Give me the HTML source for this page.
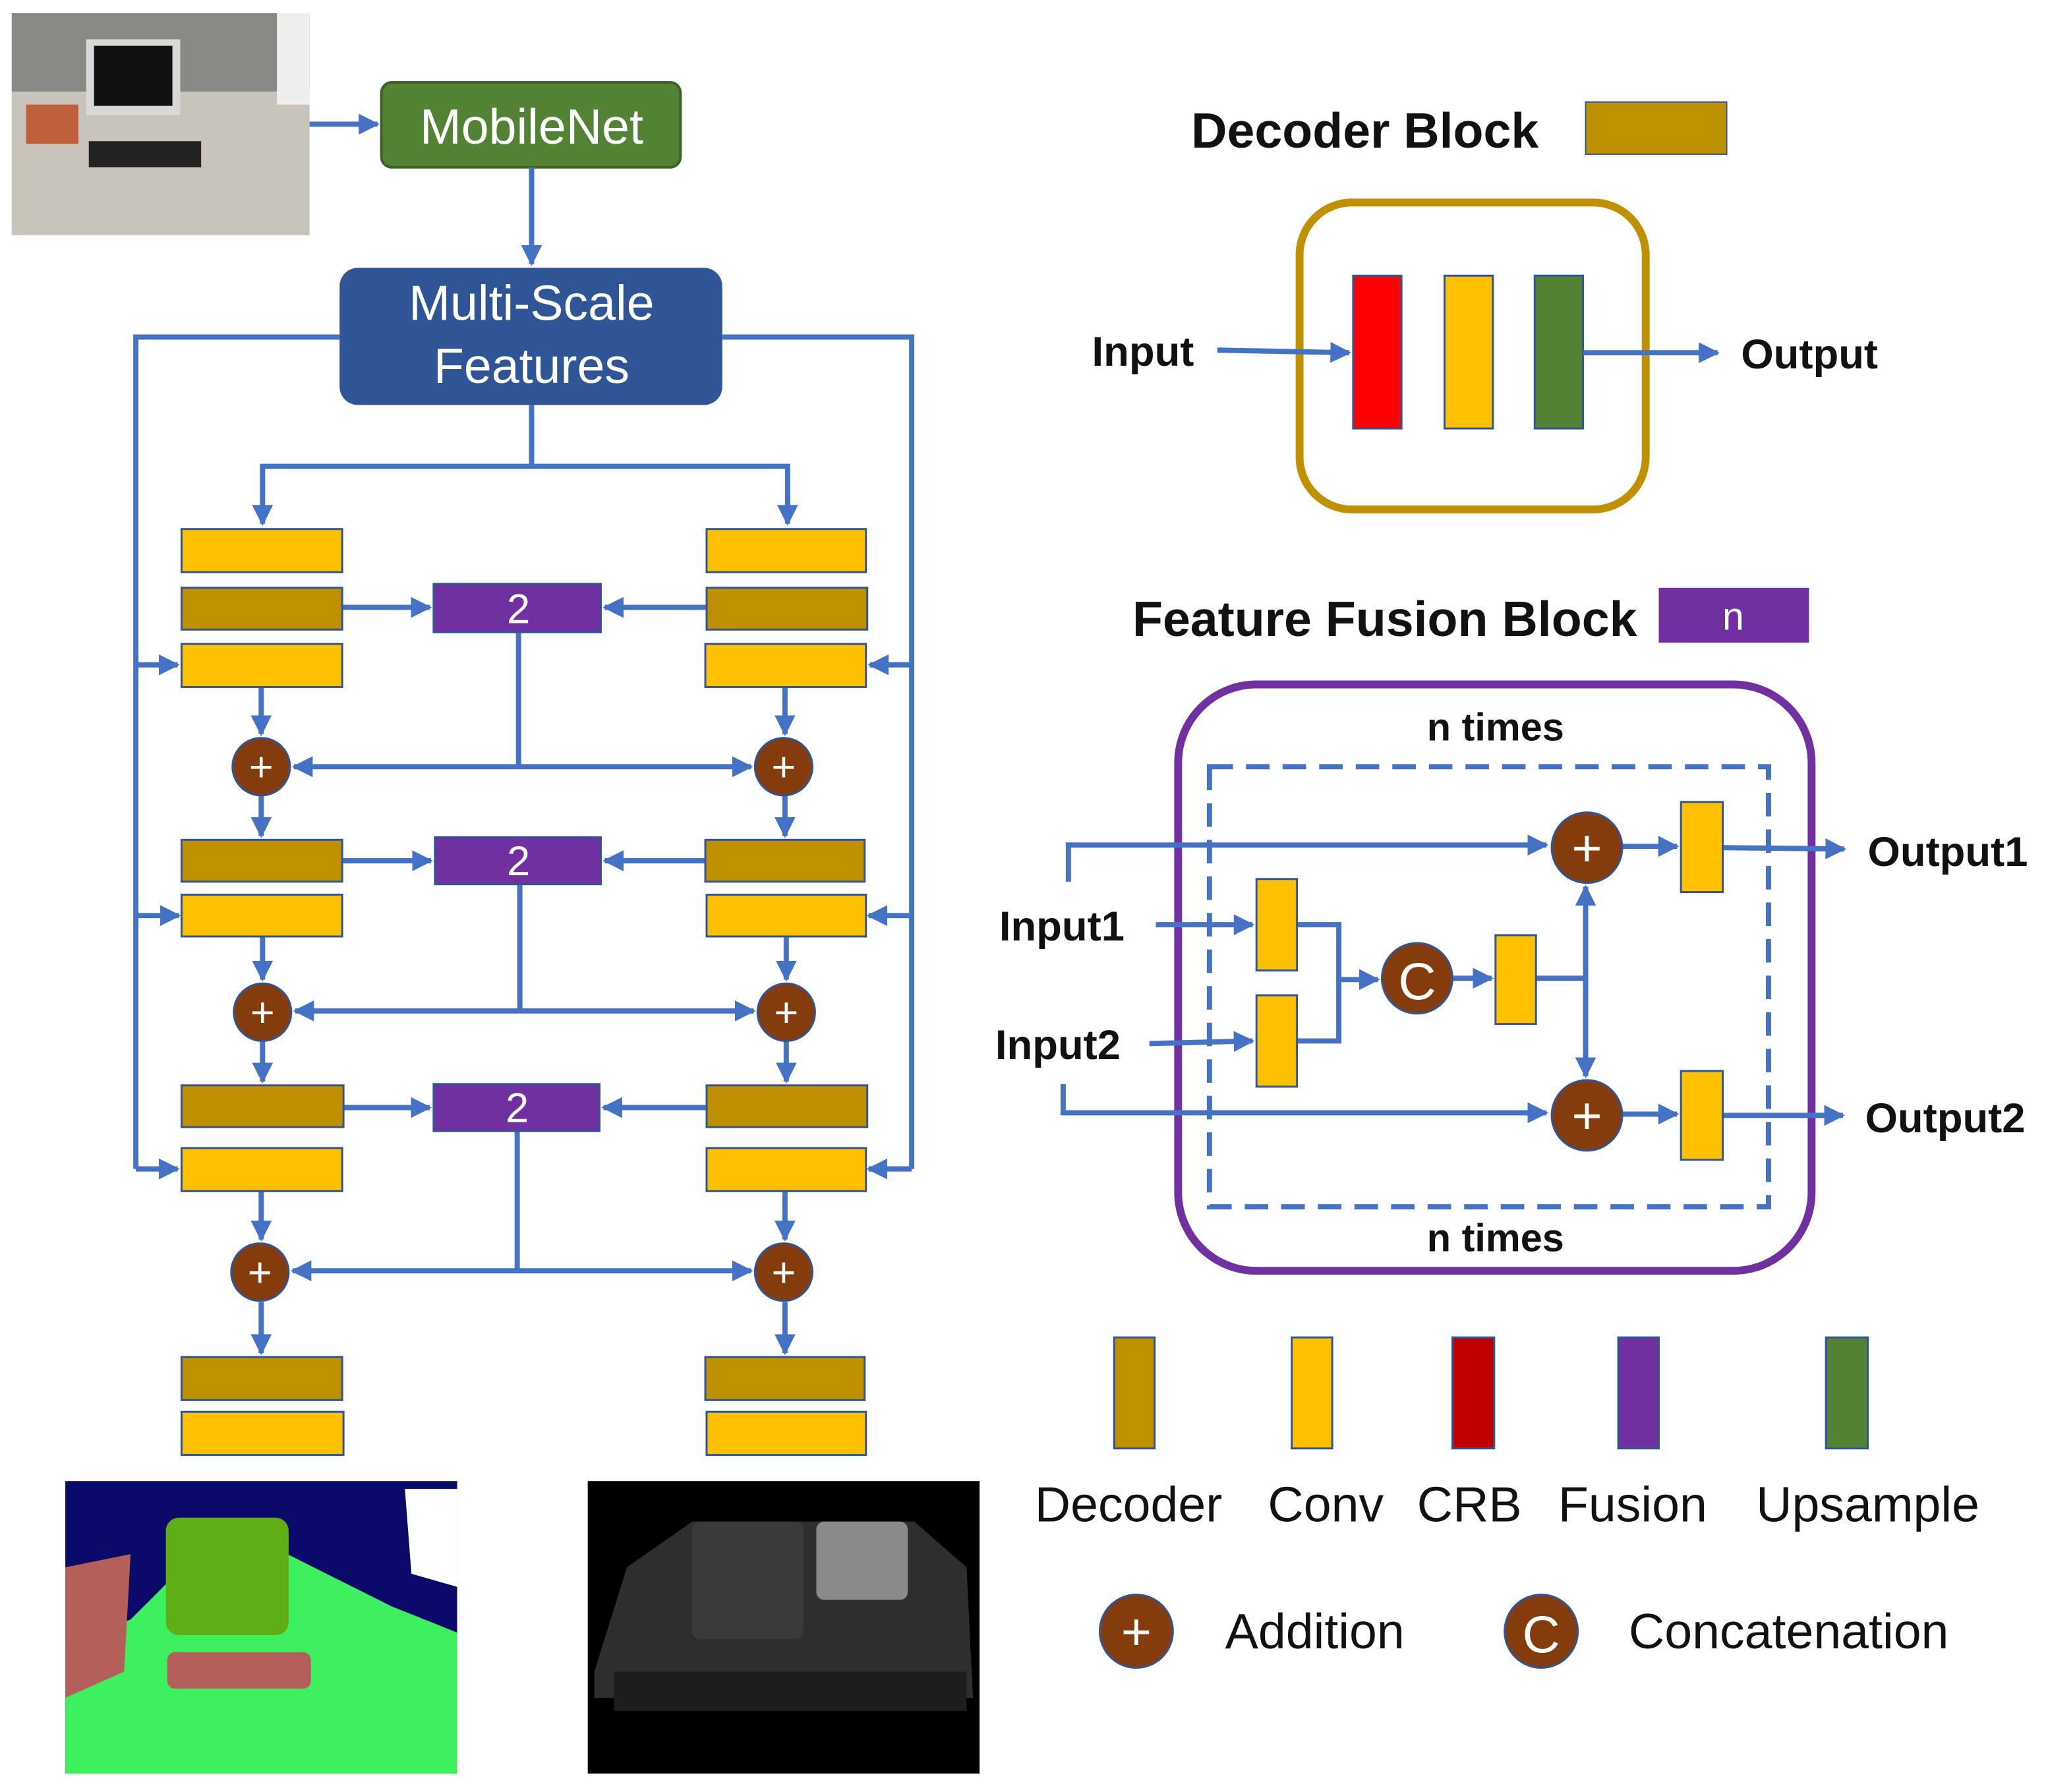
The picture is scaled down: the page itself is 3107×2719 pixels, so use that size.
<!DOCTYPE html>
<html><head><meta charset="utf-8"><style>
html,body{margin:0;padding:0;background:#fff;}
svg{display:block;}
text{font-family:"Liberation Sans",sans-serif;}
</style></head><body>
<svg width="3107" height="2719" viewBox="0 0 1568 1372" xmlns="http://www.w3.org/2000/svg">
<defs>
<marker id="a" viewBox="0 0 10 10" refX="9" refY="5" markerWidth="4" markerHeight="4" orient="auto-start-reverse"><path d="M0,0 L10,5 L0,10 z" fill="#4472C4"/></marker>
</defs>
<!-- photo -->
<rect x="9" y="10" width="228" height="170" fill="#c9c4bb"/>
<rect x="9" y="10" width="228" height="60" fill="#8a8a85"/>
<rect x="66" y="30" width="72" height="58" fill="#d8d8d8"/><rect x="72" y="35" width="60" height="46" fill="#111"/>
<rect x="68" y="108" width="86" height="20" fill="#222"/>
<rect x="212" y="10" width="25" height="70" fill="#eee"/>
<rect x="20" y="80" width="40" height="30" fill="#c0603a"/>
<!-- MobileNet -->
<rect x="292" y="63" width="229" height="65" rx="8" fill="#548235" stroke="#3d6127" stroke-width="2"/>
<text x="407" y="110" font-size="38" fill="#fff" text-anchor="middle">MobileNet</text>
<g stroke="#4472C4" stroke-width="4" fill="none">
<line x1="237" y1="95" x2="289" y2="95" marker-end="url(#a)"/>
<line x1="407" y1="128" x2="407" y2="202" marker-end="url(#a)"/>
<polyline points="260,258 104,258 104,895"/>
<polyline points="553,258 698,258 698,895"/>
<polyline points="407,310 407,357 201,357 201,401" marker-end="url(#a)"/>
<polyline points="407,357 603,357 603,401" marker-end="url(#a)"/>
<!-- row1 -->
<line x1="262" y1="465" x2="329" y2="465" marker-end="url(#a)"/>
<line x1="541" y1="465" x2="463" y2="465" marker-end="url(#a)"/>
<line x1="104" y1="509" x2="136" y2="509" marker-end="url(#a)"/>
<line x1="698" y1="509" x2="666" y2="509" marker-end="url(#a)"/>
<line x1="397" y1="484" x2="397" y2="587"/>
<line x1="397" y1="587" x2="225" y2="587" marker-end="url(#a)"/>
<line x1="397" y1="587" x2="575" y2="587" marker-end="url(#a)"/>
<line x1="200" y1="526" x2="200" y2="562" marker-end="url(#a)"/>
<line x1="601" y1="526" x2="601" y2="562" marker-end="url(#a)"/>
<line x1="200" y1="609" x2="200" y2="640" marker-end="url(#a)"/>
<line x1="601" y1="609" x2="601" y2="640" marker-end="url(#a)"/>
<!-- row2 -->
<line x1="262" y1="659" x2="330" y2="659" marker-end="url(#a)"/>
<line x1="541" y1="659" x2="463" y2="659" marker-end="url(#a)"/>
<line x1="104" y1="701" x2="137" y2="701" marker-end="url(#a)"/>
<line x1="698" y1="701" x2="665" y2="701" marker-end="url(#a)"/>
<line x1="398" y1="677" x2="398" y2="774"/>
<line x1="398" y1="774" x2="226" y2="774" marker-end="url(#a)"/>
<line x1="398" y1="774" x2="577" y2="774" marker-end="url(#a)"/>
<line x1="201" y1="717" x2="201" y2="750" marker-end="url(#a)"/>
<line x1="602" y1="717" x2="602" y2="750" marker-end="url(#a)"/>
<line x1="201" y1="797" x2="201" y2="828" marker-end="url(#a)"/>
<line x1="602" y1="797" x2="602" y2="828" marker-end="url(#a)"/>
<!-- row3 -->
<line x1="263" y1="848" x2="329" y2="848" marker-end="url(#a)"/>
<line x1="541" y1="848" x2="462" y2="848" marker-end="url(#a)"/>
<line x1="104" y1="895" x2="136" y2="895" marker-end="url(#a)"/>
<line x1="698" y1="895" x2="665" y2="895" marker-end="url(#a)"/>
<line x1="396" y1="866" x2="396" y2="973"/>
<line x1="396" y1="973" x2="224" y2="973" marker-end="url(#a)"/>
<line x1="396" y1="973" x2="575" y2="973" marker-end="url(#a)"/>
<line x1="200" y1="912" x2="200" y2="949" marker-end="url(#a)"/>
<line x1="601" y1="912" x2="601" y2="949" marker-end="url(#a)"/>
<line x1="200" y1="997" x2="200" y2="1036" marker-end="url(#a)"/>
<line x1="601" y1="997" x2="601" y2="1036" marker-end="url(#a)"/>
</g>
<rect x="260" y="205" width="293" height="105" rx="14" fill="#2F5597"/>
<text x="407" y="245" font-size="38" fill="#fff" text-anchor="middle">Multi-Scale</text>
<text x="407" y="293" font-size="38" fill="#fff" text-anchor="middle">Features</text>
<g stroke="#2F5597" stroke-width="1.5">
<g fill="#FFC000">
<rect x="139" y="405" width="123" height="33"/><rect x="139" y="493" width="123" height="33"/>
<rect x="541" y="405" width="122" height="33"/><rect x="540" y="493" width="123" height="33"/>
<rect x="139" y="685" width="123" height="32"/><rect x="541" y="685" width="122" height="32"/>
<rect x="139" y="879" width="123" height="33"/><rect x="541" y="879" width="122" height="33"/>
<rect x="139" y="1081" width="124" height="33"/><rect x="541" y="1081" width="122" height="33"/>
</g>
<g fill="#BF9000">
<rect x="139" y="450" width="123" height="32"/><rect x="541" y="450" width="123" height="32"/>
<rect x="139" y="643" width="123" height="32"/><rect x="540" y="643" width="122" height="32"/>
<rect x="139" y="831" width="124" height="32"/><rect x="541" y="831" width="123" height="32"/>
<rect x="139" y="1039" width="123" height="33"/><rect x="540" y="1039" width="122" height="33"/>
</g>
<g fill="#7030A0">
<rect x="332" y="447" width="128" height="37"/><rect x="333" y="641" width="127" height="36"/><rect x="332" y="830" width="127" height="36"/>
</g>
</g>
<g font-size="32" fill="#fff" text-anchor="middle">
<text x="397" y="477">2</text><text x="397" y="670">2</text><text x="396" y="859">2</text>
</g>
<g fill="#843C0C" stroke="#2F5597" stroke-width="1.5">
<circle cx="200" cy="587" r="22"/><circle cx="600" cy="587" r="22"/>
<circle cx="201" cy="775" r="22"/><circle cx="602" cy="775" r="22"/>
<circle cx="199" cy="974" r="22"/><circle cx="600" cy="974" r="22"/>
</g>
<g font-size="32" fill="#fff" text-anchor="middle">
<text x="200" y="598">+</text><text x="600" y="598">+</text>
<text x="201" y="786">+</text><text x="602" y="786">+</text>
<text x="199" y="985">+</text><text x="600" y="985">+</text>
</g>
<!-- seg image -->
<rect x="50" y="1134" width="300" height="224" fill="#0a0a6a"/>
<path d="M50,1260 L100,1240 L140,1200 L220,1190 L300,1230 L350,1250 L350,1358 L50,1358 Z" fill="#3ef060"/>
<rect x="127" y="1162" width="94" height="90" rx="10" fill="#5fae17"/>
<rect x="128" y="1265" width="110" height="28" rx="6" fill="#b45f5a"/>
<path d="M50,1200 L100,1190 L95,1280 L50,1300Z" fill="#b45f5a"/>
<path d="M310,1140 L350,1140 L350,1215 L315,1205Z" fill="#fff"/>
<!-- depth image -->
<rect x="450" y="1134" width="300" height="224" fill="#000"/>
<path d="M455,1280 L480,1200 L530,1165 L620,1165 L700,1165 L740,1200 L745,1300 L455,1300 Z" fill="#2e2e2e"/>
<rect x="530" y="1165" width="85" height="90" rx="6" fill="#3a3a3a"/>
<rect x="625" y="1165" width="70" height="60" rx="6" fill="#8a8a8a"/>
<rect x="470" y="1280" width="270" height="30" fill="#1d1d1d"/>
<!-- Decoder Block -->
<text x="912" y="113" font-size="38" font-weight="bold" fill="#111">Decoder Block</text>
<rect x="1214" y="78" width="108" height="40" fill="#BF9000" stroke="#2F5597" stroke-width="1"/>
<rect x="995" y="155" width="265" height="235" rx="40" fill="none" stroke="#BF9000" stroke-width="6"/>
<rect x="1036" y="211" width="37" height="117" fill="#FF0000" stroke="#2F5597" stroke-width="1.5"/>
<rect x="1106" y="211" width="37" height="117" fill="#FFC000" stroke="#2F5597" stroke-width="1.5"/>
<rect x="1175" y="211" width="37" height="117" fill="#548235" stroke="#2F5597" stroke-width="1.5"/>
<text x="836" y="280" font-size="32" font-weight="bold" fill="#111">Input</text>
<text x="1333" y="282" font-size="32" font-weight="bold" fill="#111">Output</text>
<!-- Feature Fusion -->
<text x="867" y="487" font-size="38" font-weight="bold" fill="#111">Feature Fusion Block</text>
<rect x="1270" y="450" width="115" height="42" fill="#7030A0"/>
<text x="1327" y="482" font-size="30" fill="#fff" text-anchor="middle">n</text>
<rect x="902" y="524" width="485" height="449" rx="60" fill="none" stroke="#7030A0" stroke-width="6"/>
<rect x="926" y="587" width="428" height="337" fill="none" stroke="#4472C4" stroke-width="4" stroke-dasharray="18,10"/>
<text x="1145" y="567" font-size="30" font-weight="bold" fill="#111" text-anchor="middle">n times</text>
<text x="1145" y="958" font-size="30" font-weight="bold" fill="#111" text-anchor="middle">n times</text>
<text x="765" y="720" font-size="32" font-weight="bold" fill="#111">Input1</text>
<text x="762" y="811" font-size="32" font-weight="bold" fill="#111">Input2</text>
<text x="1430" y="663" font-size="32" font-weight="bold" fill="#111">Output1</text>
<text x="1428" y="867" font-size="32" font-weight="bold" fill="#111">Output2</text>
<g stroke="#4472C4" stroke-width="4" fill="none">
<line x1="932" y1="268" x2="1033" y2="270" marker-end="url(#a)"/>
<line x1="1212" y1="270" x2="1315" y2="270" marker-end="url(#a)"/>
<polyline points="818,675 818,647 1184,647" marker-end="url(#a)"/>
<line x1="1242" y1="648" x2="1284" y2="648" marker-end="url(#a)"/>
<line x1="1319" y1="649" x2="1412" y2="650" marker-end="url(#a)"/>
<line x1="885" y1="708" x2="959" y2="708" marker-end="url(#a)"/>
<line x1="880" y1="799" x2="959" y2="797" marker-end="url(#a)"/>
<polyline points="993,708 1025,708 1025,797 993,797"/>
<line x1="1025" y1="750" x2="1055" y2="750" marker-end="url(#a)"/>
<line x1="1112" y1="749" x2="1142" y2="749" marker-end="url(#a)"/>
<line x1="1176" y1="749" x2="1214" y2="749"/>
<line x1="1214" y1="749" x2="1214" y2="679" marker-end="url(#a)"/>
<line x1="1214" y1="749" x2="1214" y2="824" marker-end="url(#a)"/>
<polyline points="814,830 814,852 1184,852" marker-end="url(#a)"/>
<line x1="1242" y1="853" x2="1284" y2="853" marker-end="url(#a)"/>
<line x1="1319" y1="854" x2="1411" y2="854" marker-end="url(#a)"/>
</g>
<g fill="#FFC000" stroke="#2F5597" stroke-width="1.5">
<rect x="1287" y="614" width="32" height="69"/><rect x="962" y="673" width="31" height="70"/>
<rect x="962" y="762" width="31" height="70"/><rect x="1145" y="716" width="31" height="68"/>
<rect x="1287" y="820" width="32" height="68"/>
</g>
<g fill="#843C0C" stroke="#2F5597" stroke-width="1.5">
<circle cx="1215" cy="649" r="27"/><circle cx="1215" cy="854" r="27"/><circle cx="1085" cy="749" r="27"/>
<circle cx="870" cy="1249" r="28"/><circle cx="1180" cy="1249" r="28"/>
</g>
<g font-size="40" fill="#fff" text-anchor="middle">
<text x="1215" y="663">+</text><text x="1215" y="868">+</text><text x="1085" y="765">C</text>
<text x="870" y="1263">+</text><text x="1180" y="1265">C</text>
</g>
<!-- legend -->
<g stroke="#2F5597" stroke-width="1.5">
<rect x="853" y="1024" width="31" height="85" fill="#BF9000"/>
<rect x="989" y="1024" width="31" height="85" fill="#FFC000"/>
<rect x="1112" y="1024" width="32" height="85" fill="#C00000"/>
<rect x="1239" y="1024" width="31" height="85" fill="#7030A0"/>
<rect x="1398" y="1024" width="32" height="85" fill="#548235"/>
</g>
<g font-size="38" fill="#111" text-anchor="middle">
<text x="864" y="1165">Decoder</text><text x="1015" y="1165">Conv</text><text x="1125" y="1165">CRB</text>
<text x="1250" y="1165">Fusion</text><text x="1430" y="1165">Upsample</text>
</g>
<text x="938" y="1262" font-size="38" fill="#111">Addition</text>
<text x="1247" y="1262" font-size="38" fill="#111">Concatenation</text>
</svg>
</body></html>
